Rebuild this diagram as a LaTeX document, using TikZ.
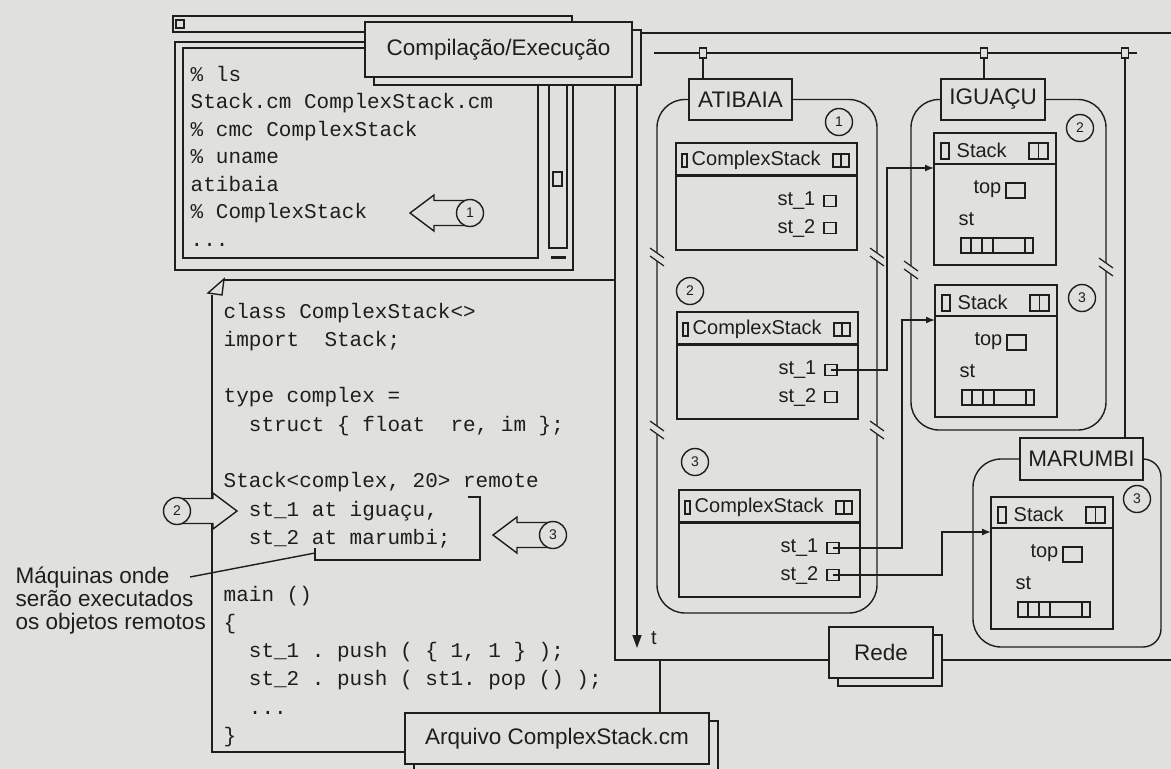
\documentclass[tikz,border=0pt]{standalone}
\usepackage{fontspec}
\setmainfont{Liberation Sans}
\setmonofont{Liberation Mono}
\usetikzlibrary{arrows.meta,shadows}
\definecolor{paper}{RGB}{224,224,221}
\definecolor{ink}{RGB}{30,30,30}
\begin{document}
\begin{tikzpicture}[x=1pt,y=-1pt,line width=1.4pt,color=ink,
  lab/.style={font=\fontsize{22.5}{23}\selectfont},
  obj/.style={font=\fontsize{20}{20}\selectfont,inner sep=0pt},
  mono/.style={font=\fontsize{21}{21}\ttfamily,inner sep=0pt,anchor=base west},
  tag/.style={lab,draw,fill=paper,inner sep=0pt,
    general shadow={shadow xshift=9pt,shadow yshift=-8pt,fill=paper,draw=ink}},
  box/.style={lab,draw,fill=paper,inner sep=0pt,minimum height=41pt},
  num/.style={circle,draw,fill=paper,inner sep=0pt,minimum size=27pt,
    font=\fontsize{14}{14}\selectfont},
  slot/.style={draw,inner sep=0pt,minimum width=12pt,minimum height=11pt},
  tap/.style={draw,fill=paper,inner sep=0pt,minimum width=7pt,minimum height=10pt},
  outline/.style={rounded corners=28pt},
  link/.style={-{Latex[length=9pt,width=7pt]}},
  pics/brk/.style={code={
    \fill[paper] (-3,-4) rectangle (3,4);
    \draw[line width=1.2pt] (-7,-9) -- (7,1) (-7,-1) -- (7,9);}},
  pics/numarrow/.style={code={
    \draw[fill=paper] (0,0) -- (24,-18) -- (24,-12.5) -- (60,-12.5)
      -- (60,12.5) -- (24,12.5) -- (24,18) -- cycle;
    \node[num] (-n) at (60,0) {#1};}},
  pics/cstackobj/.style={code={
    \draw (0,0) rectangle (181,107);
    \draw[line width=3pt] (0,32) -- (181,32);
    \draw (6,11) rectangle (11,24);
    \node[obj,anchor=west] (-name) at (15,17) {ComplexStack};
    \draw (157,11) rectangle (173,24) (165,11) -- (165,24);
    \node[obj,anchor=east] (-l1) at (140,58) {st\_1};
    \node[slot] (-st1) at (154,58) {};
    \node[obj,anchor=east] (-l2) at (140,85) {st\_2};
    \node[slot] (-st2) at (154,85) {};}},
  pics/stackobj/.style={code={
    \draw (0,0) rectangle (122,132);
    \draw (0,31) -- (122,31);
    \draw (7,10) rectangle (15,26);
    \node[obj,anchor=west] (-name) at (22,17) {Stack};
    \draw (95,10) rectangle (114,26) (104.5,10) -- (104.5,26);
    \node[obj,anchor=east] (-ltop) at (68,56) {top};
    \draw (72,50) rectangle (91,65);
    \node[obj,anchor=west] (-lst) at (24,86) {st};
    \draw (27,105) rectangle (99,120);
    \foreach \d in {37,48,59,91} \draw (\d,105) -- (\d,120);
    \coordinate (-in) at (0,35);}}]
 \useasboundingbox (0,0) rectangle (1171,769);
 \fill[paper] (0,0) rectangle (1171,769);
 \draw (173,16) rectangle (572,32);
 \draw (176,20) rectangle (184,28);
 \draw (175,42) rectangle (573,270);
 \draw (183,48) rectangle (538,258);
 \draw (549,60) rectangle (567,248);
 \draw (553,172) rectangle (562,186);
 \draw[line width=3pt] (551,257) -- (566,257);
 \foreach \txt [count=\i from 0] in {\% ls,Stack.cm ComplexStack.cm,
     \% cmc ComplexStack,\% uname,atibaia,\% ComplexStack,.{}.{}.}
   \node[mono] (term\i) at (190,81+27.5*\i) {\txt};
 \pic at (410,213) {numarrow=1};
 \draw (1171,33) -- (642,33);
 \draw (615,60) -- (615,660) -- (1171,660);
 \coordinate (netA) at (660,660);
 \coordinate (tend) at (637,648);
 \draw[-{Triangle[length=13pt,width=9pt]}] (637,60) -- (tend);
 \node[obj] (tlab) at (654,638) {t};
 \draw (224,280) -- (615,280);
 \draw[fill=paper] (224,279) -- (208,293) -- (222,295) -- cycle;
 \draw (212,295) -- (212,752) -- (405,752);
 \foreach \ln/\ind/\txt in {0/0/{class ComplexStack<>},1/0/{import\ \ Stack;},
     3/0/{type complex =},4/2/{struct \{ float\ \ re, im \};},
     6/0/{Stack<complex, 20> remote},7/2/{st\_1 at iguaçu,},8/2/{st\_2 at marumbi;},
     10/0/{main ()},11/0/{\{},12/2/{st\_1 . push ( \{ 1, 1 \} );},
     13/2/{st\_2 . push ( st1. pop () );},14/2/{.{}.{}.},15/0/{\}}}
   \node[mono] (code\ln) at (223+12.6*\ind,318+28.3*\ln) {\txt};
 \draw (468,497) -| (480,560) -| (315,548);
 \coordinate (brkend) at (315,553);
 \pic[xscale=-1] at (237,511) {numarrow=2};
 \pic at (493,535) {numarrow=3};
 \node[lab,align=left,anchor=north west,inner sep=0pt] (note) at (15,566)
   {Máquinas onde\\serão executados\\os objetos remotos};
 \coordinate (leadA) at (190,577);
 \draw (leadA) -- (brkend);
 \node[tag,minimum width=267pt,minimum height=55pt] (comp) at (498.5,49.5) {Compilação/Execução};
 \node[tag,minimum width=304pt,minimum height=51pt] (arq) at (557,738.5) {Arquivo ComplexStack.cm};
 \node[tag,minimum width=104pt,minimum height=51pt] (rede) at (881,652.5) {Rede};
 \draw (netA) -- (netA |- arq.north);
 \draw (654,53) -- (1137,53);
 \node[tap] (tapA) at (703,53) {};
 \node[tap] (tapI) at (984,53) {};
 \node[tap] (tapM) at (1125,53) {};
 \node[box,minimum width=103pt] (atib) at (740.5,99.5) {ATIBAIA};
 \node[box,minimum width=104pt] (igua) at (993,99.5) {IGUAÇU};
 \node[box,minimum width=123pt,minimum height=42pt] (maru) at (1081.5,459) {MARUMBI};
 \draw (tapA.south) -- (tapA.south |- atib.north);
 \draw (tapI.south) -- (tapI.south |- igua.north);
 \draw (tapM.south) -- (tapM.south |- maru.north);
 \draw[outline] (atib.west) -| (657,613) -- (877,613) |- (atib.east);
 \draw[outline] (igua.west) -| (911,430) -- (1106,430) |- (igua.east);
 \draw[rounded corners=18pt] (maru.east) -| (1161,647) [rounded corners=28pt]
   -- (973,647) |- (maru.west);
 \foreach \p in {(657,257),(657,430),(877,257),(877,430),(911,270),(1106,267)}
   \pic at \p {brk};
 \pic (c1) at (676,143) {cstackobj};
 \pic (c2) at (677,312) {cstackobj};
 \pic (c3) at (679,490) {cstackobj};
 \pic (s2) at (934,133) {stackobj};
 \pic (s3) at (935,285) {stackobj};
 \pic (s4) at (991,497) {stackobj};
 \node[num] (nA1) at (839,122) {1};
 \node[num] (nA2) at (690,291) {2};
 \node[num] (nA3) at (695,462) {3};
 \node[num] (nI2) at (1080,128) {2};
 \node[num] (nI3) at (1082,298) {3};
 \node[num] (nM3) at (1137,499) {3};
 \draw[link] (c2-st1.center) -| ([xshift=-47pt]s2-in) -- (s2-in);
 \draw[link] (c3-st1.center) -| ([xshift=-33pt]s3-in) -- (s3-in);
 \draw[link] (c3-st2.center) -| ([xshift=-49pt]s4-in) -- (s4-in);
\end{tikzpicture}
\end{document}
